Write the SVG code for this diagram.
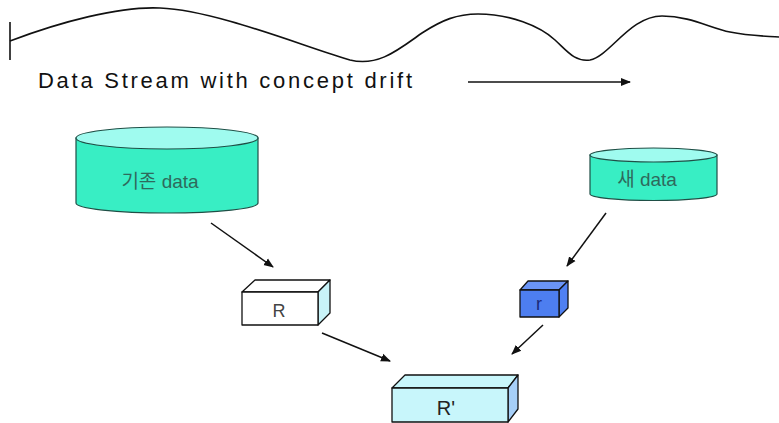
<svg xmlns="http://www.w3.org/2000/svg" width="779" height="423" viewBox="0 0 779 423">
<style>
.line{fill:none;stroke:#111;stroke-width:1.6}
.conn{fill:none;stroke:#111;stroke-width:1.5;marker-end:url(#ah)}
.cylBody{fill:#38EEC4;stroke:#1f4f46;stroke-width:1.2}
.cylTop{fill:#9FFBEF;stroke:#1f4f46;stroke-width:1.2}
.lbl{font-family:"Liberation Sans","Noto Sans CJK KR",sans-serif;fill:#2f6a5c}
.boxlbl{font-family:"Liberation Sans",sans-serif;text-anchor:middle}
.edge{stroke:#111;stroke-width:1.3;stroke-linejoin:round}
</style>
<defs>
<marker id="ah" viewBox="0 0 10 10" refX="9" refY="5" markerWidth="10" markerHeight="10" markerUnits="userSpaceOnUse" orient="auto">
<path d="M0,1 L10,5 L0,9 Z" fill="#111"/>
</marker>
</defs>
<rect width="779" height="423" fill="#fff"/>

<g id="stream">
<line class="line" x1="10" y1="22" x2="10" y2="60"/>
<path class="line" d="M10,41 C60,22 120,6 160,8 C215,10 305,47 350,60 C378,67 398,50 422,33 C442,20 457,14 478,14 C510,14 540,26 555,40 C568,52 575,62 590,60 C610,56 630,16 662,16 C690,16 710,28 730,32 C750,36 765,36 779,37"/>
<text x="38" y="88" font-family="Liberation Sans, sans-serif" font-size="22" fill="#111" textLength="374" lengthAdjust="spacing">Data Stream with concept drift</text>
<line class="line" x1="468" y1="82" x2="630" y2="82" marker-end="url(#ah)"/>
</g>

<g id="old-data">
<path class="cylBody" d="M76,138 L76,203 A91,10 0 0 0 258,203 L258,138 Z"/>
<ellipse class="cylTop" cx="167" cy="138" rx="91" ry="11"/>
<text class="lbl" x="160" y="188" font-size="19" text-anchor="middle">기존 data</text>
</g>

<g id="new-data">
<path class="cylBody" d="M590,155 L590,194 A63.5,6.5 0 0 0 717,194 L717,155 Z"/>
<ellipse class="cylTop" cx="653.5" cy="155" rx="63.5" ry="7"/>
<text class="lbl" x="647" y="186" font-size="19" text-anchor="middle">새 data</text>
</g>

<g id="box-R">
<polygon class="edge" points="242,292 255,280 330,280 318,292" fill="#ffffff"/>
<polygon class="edge" points="318,292 330,280 330,313 318,325" fill="#c8f3f8"/>
<rect class="edge" x="242" y="292" width="76" height="33" fill="#ffffff"/>
<text class="boxlbl" x="279" y="317" font-size="18" fill="#444">R</text>
</g>

<g id="box-r">
<polygon class="edge" points="520,290 528,281 568,281 559,290" fill="#6a94f6" stroke="#1a2a7a"/>
<polygon class="edge" points="559,290 568,281 568,308 559,317" fill="#4f80f2" stroke="#1a2a7a"/>
<rect class="edge" x="520" y="290" width="39" height="27" fill="#4d7ef0" stroke="#1a2a7a"/>
<text class="boxlbl" x="539" y="310" font-size="18" fill="#1a2a7a">r</text>
</g>

<g id="box-R2">
<polygon class="edge" points="392,388 405,375 518,375 508,388" fill="#c8f6fb"/>
<polygon class="edge" points="508,388 518,375 518,409 508,422" fill="#a6cff8"/>
<rect class="edge" x="392" y="388" width="116" height="34" fill="#c8f6fb"/>
<text class="boxlbl" x="446" y="415" font-size="20" fill="#222">R'</text>
</g>

<g id="connectors">
<line class="conn" x1="211" y1="223" x2="273" y2="267"/>
<line class="conn" x1="606" y1="213" x2="567" y2="266"/>
<line class="conn" x1="322" y1="333" x2="390" y2="361"/>
<line class="conn" x1="543" y1="325" x2="512" y2="354"/>
</g>
</svg>
